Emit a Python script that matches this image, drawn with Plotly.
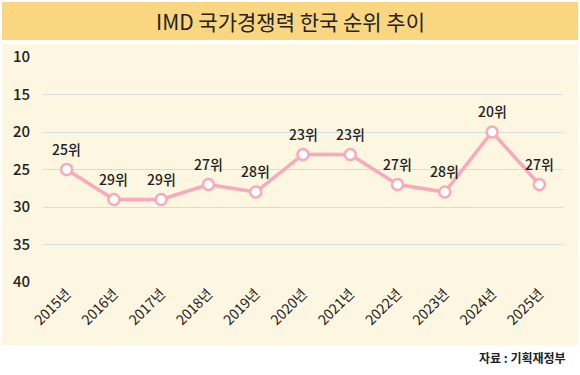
import plotly.graph_objects as go

years = ["2015년", "2016년", "2017년", "2018년", "2019년", "2020년", "2021년", "2022년", "2023년", "2024년", "2025년"]
ranks = [25, 29, 29, 27, 28, 23, 23, 27, 28, 20, 27]
labels = [f"{r}위" for r in ranks]
y_ticks = [10, 15, 20, 25, 30, 35, 40]

FONT = "Noto Sans CJK KR"
L, R, T, B = 43, 17, 57, 93
W, H = 580, 375
pw, ph = W - L - R, H - T - B

def px(x):
    return (x - L) / pw

def py(y):
    return (H - B - y) / ph

fig = go.Figure()
fig.add_trace(go.Scatter(
    x=years, y=ranks, mode="lines+markers",
    line=dict(color="#F9A9B9", width=3.5),
    marker=dict(size=11, color="white", line=dict(color="#F9A9B9", width=2.5)),
    cliponaxis=False, hoverinfo="skip",
))
for yr, rk, lb in zip(years, ranks, labels):
    fig.add_annotation(x=yr, y=rk, text=lb, showarrow=False, yshift=21,
                       xanchor="center", yanchor="middle",
                       font=dict(family=FONT, size=14, color="#222222", weight=500))

fig.add_shape(type="rect", xref="paper", yref="paper", layer="below",
              x0=px(2), x1=px(578), y0=py(40), y1=py(2),
              fillcolor="#FAD680", line=dict(width=0))
fig.add_shape(type="rect", xref="paper", yref="paper", layer="below",
              x0=px(2), x1=px(578), y0=py(345), y1=py(44),
              fillcolor="#FDF6E1", line=dict(width=0))

fig.add_annotation(text="IMD 국가경쟁력 한국 순위 추이", xref="paper", yref="paper",
                   x=px(290), y=py(21), showarrow=False, xanchor="center", yanchor="middle",
                   font=dict(family=FONT, size=21, color="#222222", weight=400))
fig.add_annotation(text="<b>자료 : 기획재정부</b>", xref="paper", yref="paper",
                   x=px(568), y=py(357), showarrow=False, xanchor="right", yanchor="middle",
                   font=dict(family=FONT, size=12, color="#222222"))

fig.update_layout(
    width=W, height=H, margin=dict(l=L, r=R, t=T, b=B),
    paper_bgcolor="white", plot_bgcolor="rgba(0,0,0,0)",
    showlegend=False,
    xaxis=dict(range=[-0.5, 10.5], showgrid=False, zeroline=False, showline=False,
               tickangle=-45, tickfont=dict(family=FONT, size=14, color="#222222", weight=400),
               ticks=""),
    yaxis=dict(range=[40, 10], tickvals=y_ticks, showgrid=True, gridcolor="#D6DCE4",
               gridwidth=1.2, zeroline=False, showline=False, ticks="",
               tickfont=dict(family=FONT, size=15, color="#222222", weight=500), ticklabelstandoff=12),
)

fig.write_html("out.html", post_script="document.body.style.margin='0';",
               config={"displayModeBar": False})
